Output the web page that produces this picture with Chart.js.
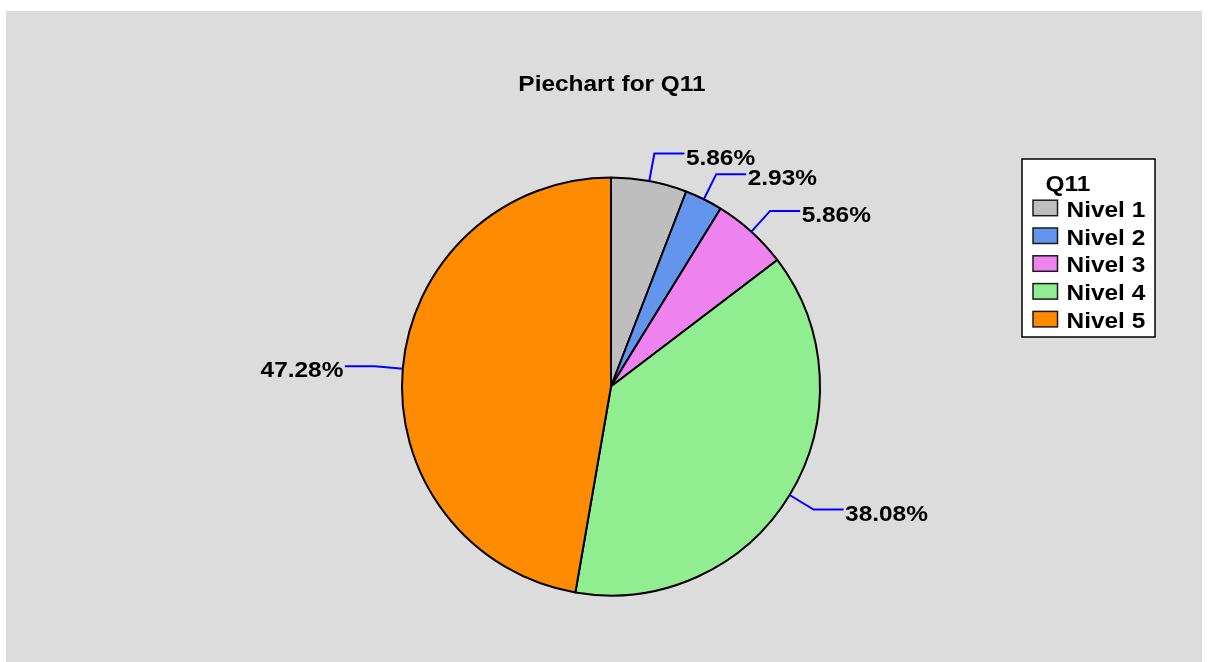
<!DOCTYPE html>
<html>
<head>
<meta charset="utf-8">
<script src="https://cdn.jsdelivr.net/npm/chart.js@4/dist/chart.umd.min.js"></script>
<style>
  html, body { margin: 0; padding: 0; background: #ffffff; width: 1208px; height: 662px; overflow: hidden; }
  #panel { position: absolute; left: 6px; top: 11px; width: 1196px; height: 651px; background: #dcdcdc; }
  canvas { display: block; }
</style>
</head>
<body>
<div id="panel"><canvas id="pie" width="1196" height="651"></canvas></div>
<script>
// Answer distribution for question Q11 (percent of respondents)
const chartTitle = 'Piechart for Q11';
const legendTitle = 'Q11';
const categories = ['Nivel 1', 'Nivel 2', 'Nivel 3', 'Nivel 4', 'Nivel 5'];
const percentages = [5.86, 2.93, 5.86, 38.08, 47.28];
const sliceColors = ['#bebebe', '#6495ed', '#ee82ee', '#90ee90', '#ff8c00'];

const FONT = 'bold 22px "Liberation Sans", Arial, sans-serif';
const STRETCH = 1.11;

// Wide bold text: the glyphs are drawn with a slight horizontal stretch
function wideText(ctx, text, x, y, align) {
  ctx.save();
  ctx.translate(x, y);
  ctx.scale(STRETCH, 1);
  ctx.font = FONT;
  ctx.textAlign = align;
  ctx.textBaseline = 'alphabetic';
  ctx.fillStyle = '#000000';
  ctx.fillText(text, 0, 0);
  ctx.restore();
}

// Chart heading centred over the pie
const headingPlugin = {
  id: 'heading',
  afterDraw(chart, args, opts) {
    const a = chart.chartArea;
    wideText(chart.ctx, opts.text, (a.left + a.right) / 2 + 1, opts.baseline, 'center');
  }
};

// Percentage callouts with a radial + horizontal leader line
const calloutPlugin = {
  id: 'callouts',
  afterDatasetsDraw(chart) {
    const ctx = chart.ctx;
    const meta = chart.getDatasetMeta(0);
    const values = chart.data.datasets[0].data;
    ctx.save();
    ctx.strokeStyle = '#0000ff';
    ctx.lineWidth = 2;
    meta.data.forEach((arc, i) => {
      const p = arc.getProps(['x', 'y', 'startAngle', 'endAngle', 'outerRadius'], true);
      const mid = (p.startAngle + p.endAngle) / 2;
      const cx = Math.cos(mid), cy = Math.sin(mid);
      const x0 = p.x + cx * p.outerRadius, y0 = p.y + cy * p.outerRadius;
      const x1 = x0 + cx * 28, y1 = y0 + cy * 28;
      const dir = cx >= 0 ? 1 : -1;
      const x2 = x1 + dir * 30;
      ctx.beginPath();
      ctx.moveTo(x0, y0);
      ctx.lineTo(x1, y1);
      ctx.lineTo(x2, y1);
      ctx.stroke();
      wideText(ctx, values[i].toFixed(2) + '%', x2 + dir * 1.5, y1 + 11, dir > 0 ? 'left' : 'right');
    });
    ctx.restore();
  }
};

// Boxed legend to the right of the pie
const boxLegendPlugin = {
  id: 'boxLegend',
  afterDraw(chart, args, opts) {
    const ctx = chart.ctx;
    const ds = chart.data.datasets[0];
    const labels = chart.data.labels;
    const left = opts.left, top = opts.top;
    const rowH = opts.rowHeight;
    ctx.save();
    ctx.fillStyle = '#ffffff';
    ctx.fillRect(left, top, opts.width, opts.height);
    ctx.strokeStyle = '#000000';
    ctx.lineWidth = 1.5;
    ctx.strokeRect(left, top, opts.width, opts.height);
    wideText(ctx, opts.title, left + 23.5, top + 31.5, 'left');
    labels.forEach((lab, i) => {
      const base = top + 57.7 + i * rowH;
      ctx.fillStyle = ds.backgroundColor[i];
      ctx.fillRect(left + 11, base - 16.5, 24.5, 15.5);
      ctx.strokeStyle = '#1a1a1a';
      ctx.lineWidth = 1.5;
      ctx.strokeRect(left + 11, base - 16.5, 24.5, 15.5);
      wideText(ctx, lab, left + 44.5, base, 'left');
    });
    ctx.restore();
  }
};

new Chart(document.getElementById('pie'), {
  type: 'pie',
  data: {
    labels: categories,
    datasets: [{
      data: percentages,
      backgroundColor: sliceColors,
      borderColor: '#000000',
      borderWidth: 2,
      radius: 209
    }]
  },
  options: {
    responsive: false,
    animation: false,
    devicePixelRatio: 1,
    layout: { padding: { top: 167, left: 305, right: 291, bottom: 67 } },
    plugins: {
      legend: { display: false },
      tooltip: { enabled: false },
      title: { display: false },
      heading: { text: chartTitle, baseline: 80 },
      boxLegend: { title: legendTitle, left: 1016, top: 148, width: 133, height: 178, rowHeight: 27.8 }
    }
  },
  plugins: [calloutPlugin, headingPlugin, boxLegendPlugin]
});
</script>
</body>
</html>
